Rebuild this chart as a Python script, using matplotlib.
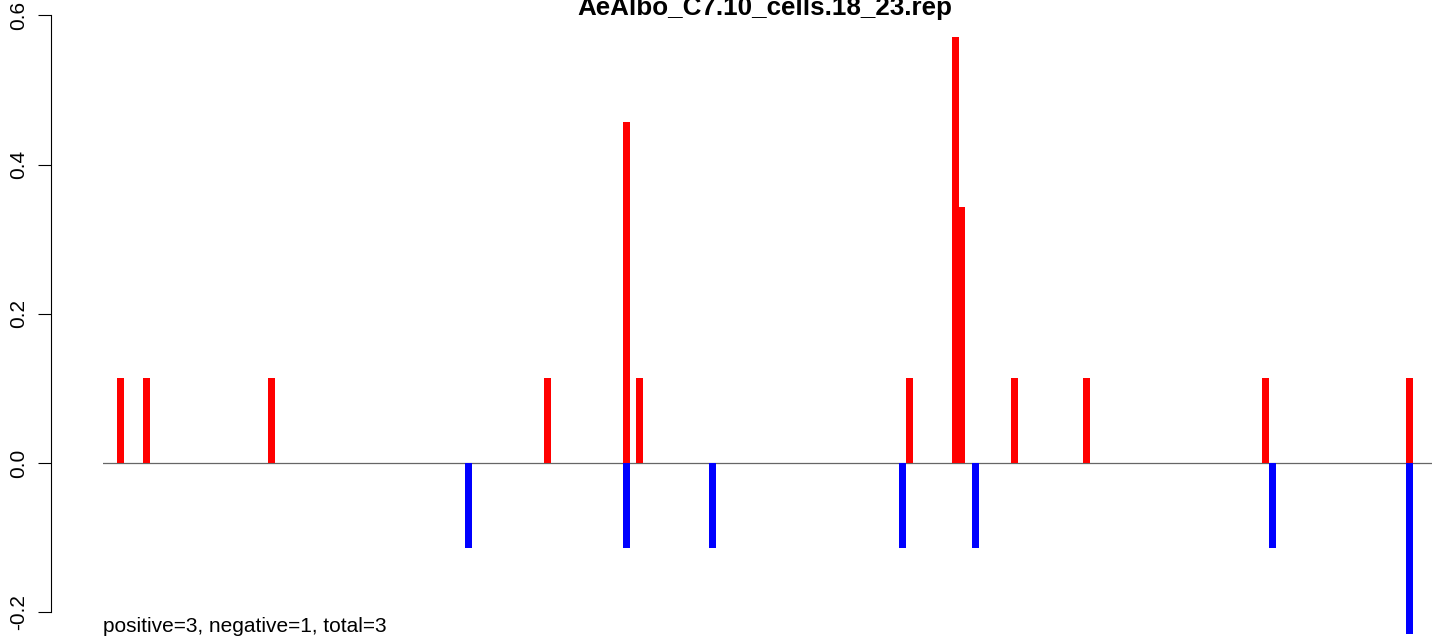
import matplotlib
matplotlib.use('Agg')
import matplotlib.pyplot as plt

plt.rcParams['font.family'] = ['Liberation Sans', 'DejaVu Sans']
plt.rcParams['axes.unicode_minus'] = False

title = 'AeAlbo_C7.10_cells.18_23.rep'
summary = 'positive=3, negative=1, total=3'

# positions along the sequence (plot units) and signed scores
pos_x = [17.5, 43.5, 168.5, 444.5, 523.5, 536.5, 806.5, 852.5, 858.5,
         911.5, 983.5, 1162, 1306.5]
pos_y = [0.1143, 0.1143, 0.1143, 0.1143, 0.4571, 0.1143, 0.1143, 0.5714,
         0.3429, 0.1143, 0.1143, 0.1143, 0.1143]
neg_x = [365.5, 523.5, 609.5, 799.5, 872.5, 1169, 1306.5]
neg_y = [-0.1143, -0.1143, -0.1143, -0.1143, -0.1143, -0.1143, -0.2286]
y_ticks = [-0.2, 0.0, 0.2, 0.4, 0.6]

W, H = 1439, 640
fig = plt.figure(figsize=(W / 100, H / 100), dpi=100)
ax = fig.add_axes([103 / W, 0, 1329 / W, 1])

ax.axhline(0, color='#666666', lw=0.9, zorder=1)
# draw 0.343 first so the taller neighbour sits on top
order = sorted(range(len(pos_x)), key=lambda i: pos_y[i])
ax.bar([pos_x[i] for i in order], [pos_y[i] for i in order], width=7,
       color='#ff0000', linewidth=0, zorder=2)
ax.bar(neg_x, neg_y, width=7, color='#0000ff', linewidth=0, zorder=2)

ax.set_xlim(0, 1329)
ax.set_ylim(-177 / 746, 463 / 746)

for s in ['top', 'right', 'bottom']:
    ax.spines[s].set_visible(False)
ax.spines['left'].set_position(('outward', 37.65))
ax.spines['left'].set_bounds(-0.2, 0.6)
ax.spines['left'].set_linewidth(0.8)
ax.set_xticks([])
ax.set_yticks(y_ticks)
ax.set_yticklabels([f'{v:.1f}' for v in y_ticks])
ax.tick_params(axis='y', length=9.4, width=0.8, pad=7, labelsize=15,
               labelrotation=90)
for lab in ax.get_yticklabels():
    lab.set_va('center')

fig.text(765 / W, 1 - 14.5 / H, title, ha='center', va='baseline',
         fontsize=18.7, fontweight='bold')
fig.text(103 / W, 1 - 632 / H, summary, ha='left', va='baseline',
         fontsize=15)

fig.savefig('out.png', dpi=100)
